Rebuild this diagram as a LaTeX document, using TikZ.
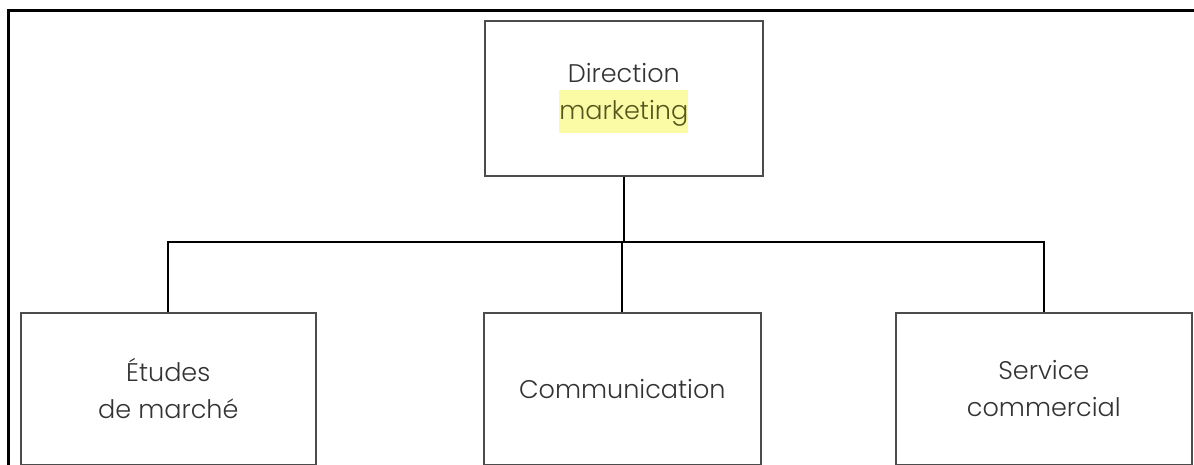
\documentclass[tikz,border=0pt]{standalone}
\usepackage{fontspec}
\setmainfont{Poppins}[UprightFont=* Light]
\begin{document}
\begin{tikzpicture}[x=1pt,y=-1pt,
  orgbox/.style={draw=black!70, line width=1.6pt, fill=white, anchor=north west,
    align=center, inner sep=0pt, text=black!80,
    font=\fontsize{25.5}{37}\selectfont},
  conn/.style={draw=black, line width=2pt},
  frame/.style={draw=black, line width=3pt}]
  \useasboundingbox (0,0) rectangle (1194,465);
  % outer frame (left and top edges)
  \draw[frame] (8,465) -- (8,11) -- (1194,11);
  % boxes
  \node[orgbox, minimum width=278pt, minimum height=155pt] (top) at (484,20)
    {Direction\\\colorbox[HTML]{FBFBA6}{\strut\hspace{-3pt}\textcolor[HTML]{55551E}{marketing}\hspace{-3pt}}};
  \node[orgbox, minimum width=295pt, minimum height=152pt] (left) at (20,312)
    {Études\\de marché};
  \node[orgbox, minimum width=277pt, minimum height=152pt] (mid) at (483,312)
    {Communication};
  \node[orgbox, minimum width=296pt, minimum height=152pt] (right) at (895,312)
    {Service\\commercial};
  % bus line
  \coordinate (bus) at (0,242);
  \draw[conn] (top.south) -- (top.south |- bus);
  \draw[conn] (left.north) -- (left.north |- bus) -- (right.north |- bus) -- (right.north);
  \draw[conn] (mid.north) -- (mid.north |- bus);
\end{tikzpicture}
\end{document}
